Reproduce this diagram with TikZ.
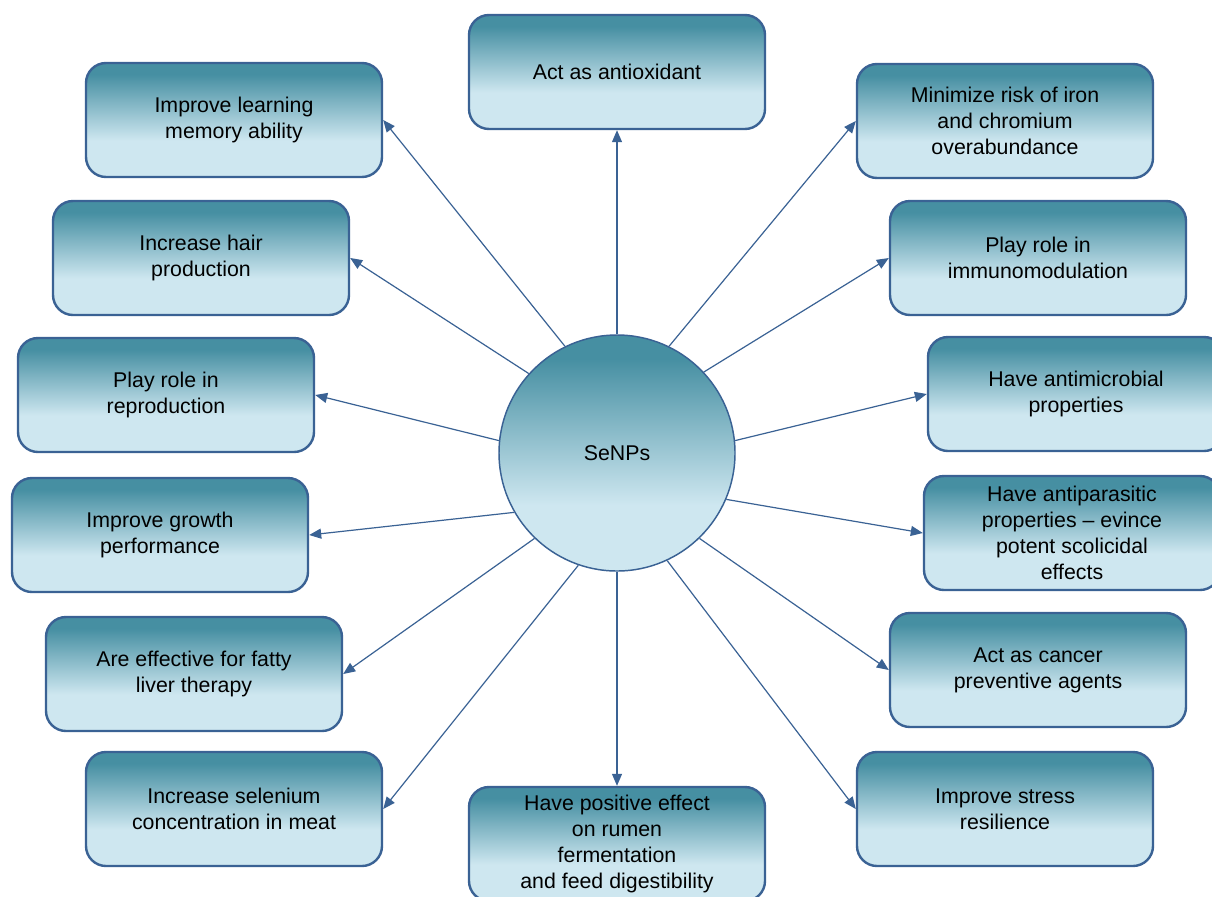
\documentclass[tikz,border=0pt]{standalone}
\usepackage{fontspec}
\setmainfont{Liberation Sans}
\usetikzlibrary{arrows.meta}
\definecolor{dk}{RGB}{70,143,162}
\definecolor{lt}{RGB}{206,231,240}
\definecolor{edge}{RGB}{58,98,148}
\pgfdeclareverticalshading{boxshade}{100bp}{color(0bp)=(lt); color(25bp)=(lt); color(41bp)=(lt); color(70bp)=(dk); color(75bp)=(dk); color(100bp)=(dk)}
\pgfdeclareverticalshading{circshade}{100bp}{color(0bp)=(lt); color(25bp)=(lt); color(39bp)=(lt); color(70bp)=(dk); color(75bp)=(dk); color(100bp)=(dk)}
\tikzset{
  box/.style={rectangle, rounded corners=15pt, draw=edge, line width=1.8pt, shading=boxshade,
    minimum width=222pt, minimum height=85.5pt, align=center, inner sep=2pt,
    font=\fontsize{16}{19.5}\selectfont, text=black},
  circ/.style={circle, draw=edge, line width=1.1pt, shading=circshade, minimum size=177pt,
    font=\fontsize{16}{19.5}\selectfont, text=black},
  arr/.style={draw=edge, line width=0.9pt, -{Triangle[length=9pt,width=7.5pt]}}
}
\begin{document}
\begin{tikzpicture}[x=0.75pt,y=-0.75pt]
\clip (0,0) rectangle (1212,896);
\fill[white] (0,0) rectangle (1212,896);
\node[circ] (c) at (617,453) {SeNPs};
\node[box] (top) at (617,72) {Act as antioxidant};
\node[box] (l1) at (234,120) {Improve learning\\memory ability};
\node[box] (l2) at (201,258) {Increase hair\\production};
\node[box] (l3) at (166,395) {Play role in\\reproduction};
\node[box] (l4) at (160,535) {Improve growth\\performance};
\node[box] (l5) at (194,674) {Are effective for fatty\\liver therapy};
\node[box] (l6) at (234,809) {Increase selenium\\concentration in meat};
\node[box] (bot) at (617,844) {Have positive effect\\on rumen\\fermentation\\and feed digestibility};
\node[box] (r1) at (1005,121) {Minimize risk of iron\\and chromium\\overabundance};
\node[box] (r2) at (1038,258) {Play role in\\immunomodulation};
\node[box] (r3) at (1076,394) {Have antimicrobial\\properties};
\node[box] (r4) at (1072,533) {Have antiparasitic\\properties – evince\\potent scolicidal\\effects};
\node[box] (r5) at (1038,670) {Act as cancer\\preventive agents};
\node[box] (r6) at (1005,809) {Improve stress\\resilience};
\draw[arr] (c.90) -- (top.south);
\draw[arr] (c.116) -- (l1.east);
\draw[arr] (c.138) -- (l2.east);
\draw[arr] (c.174) -- (l3.east);
\draw[arr] (c.210) -- (l4.east);
\draw[arr] (c.226) -- (l5.east);
\draw[arr] (c.251) -- (l6.east);
\draw[arr] (c.270) -- (bot.north);
\draw[arr] (c.64) -- (r1.west);
\draw[arr] (c.43) -- (r2.west);
\draw[arr] (c.6) -- (r3.west);
\draw[arr] (c.337) -- (r4.west);
\draw[arr] (c.314) -- (r5.west);
\draw[arr] (c.295) -- (r6.west);
\end{tikzpicture}
\end{document}
